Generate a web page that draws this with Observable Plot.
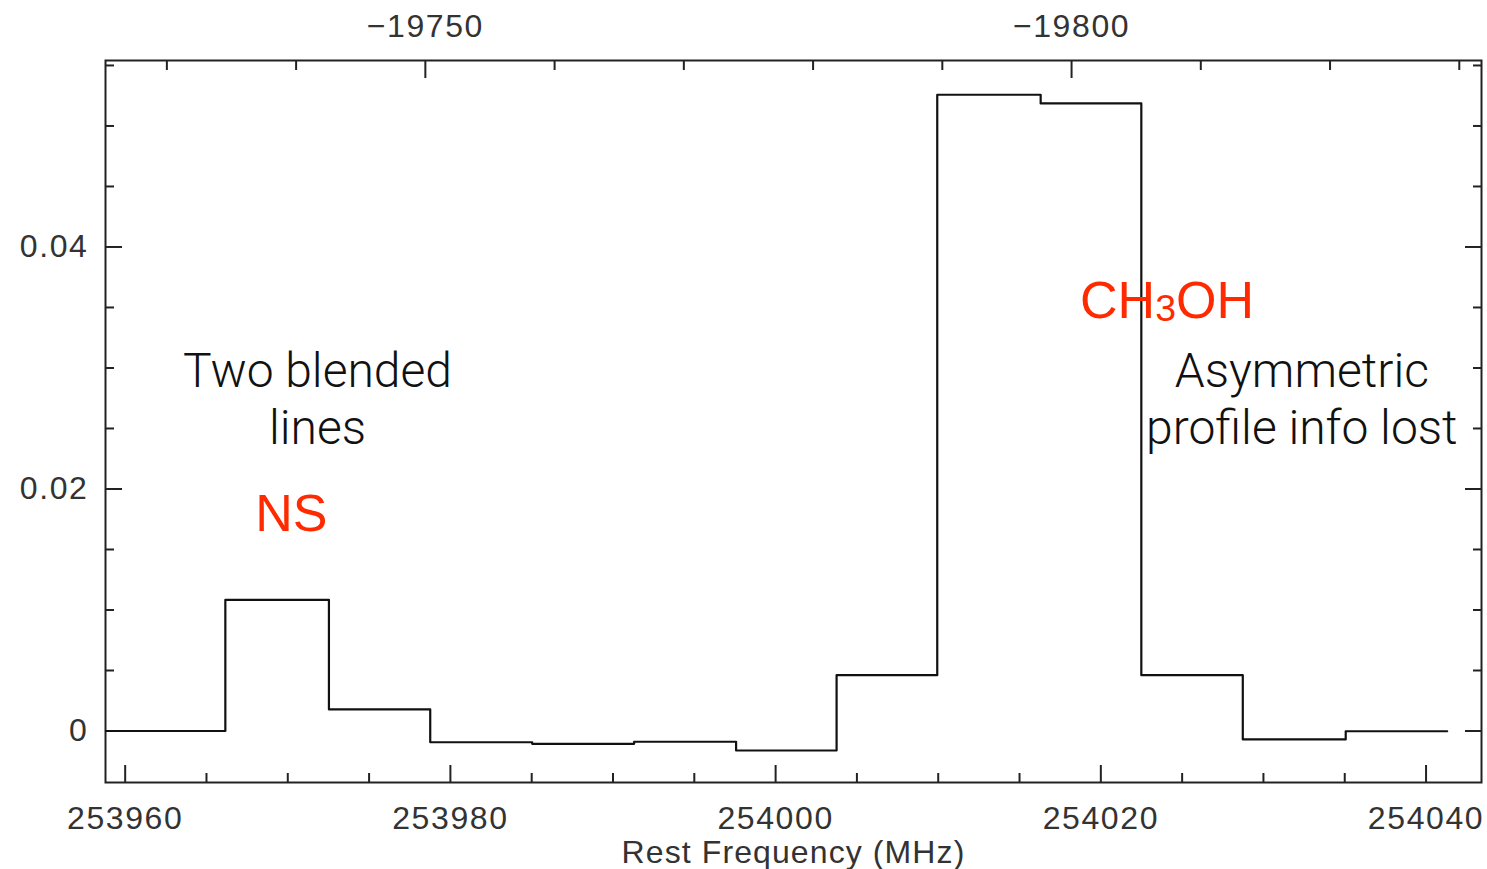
<!DOCTYPE html>
<html>
<head>
<meta charset="utf-8">
<script src="https://cdn.jsdelivr.net/npm/d3@7"></script>
<script src="https://cdn.jsdelivr.net/npm/@observablehq/plot@0.6"></script>
<style>
  html, body { margin: 0; padding: 0; background: #fff; }
  #chart { width: 1487px; height: 869px; }
  /* spaced, plotter-style digits on the axes */
  #chart g[aria-label$="tick label"] text { letter-spacing: 1.6px; }
  #chart g.axis-title text { letter-spacing: 1.1px; }
</style>
</head>
<body>
<div id="chart"></div>
<script>
// Channel edges of the spectrum (rest frequency, MHz); one more edge than channels.
const channelEdges = [
  253953.62, 253959.89, 253966.16, 253972.53, 253978.76, 253985.03, 253991.30,
  253997.57, 254003.75, 254009.94, 254016.30, 254022.49, 254028.73, 254035.06, 254041.30
];
// Antenna temperature in each channel.
const channelValues = [
  0.0000, 0.0000, 0.01084, 0.00178, -0.00093, -0.00106, -0.00089,
  -0.00161, 0.00461, 0.05258, 0.05186, 0.00461, -0.00070, -0.00002
];

// Bottom axis: rest frequency (MHz).
const freqMajorTicks = [253960, 253980, 254000, 254020, 254040];
const freqMinorTicks = [253965, 253970, 253975, 253985, 253990, 253995, 254005,
                        254010, 254015, 254025, 254030, 254035];

// Top axis: velocity (km/s), tied to the frequency axis by two reference points.
const velocityRef = [-19750, -19800];
const velocityRefFreq = [253978.46, 254018.20];
const velocityMajorTicks = [-19750, -19800];
const velocityMinorTicks = [-19730, -19740, -19760, -19770, -19780, -19790,
                            -19810, -19820, -19830];

// Vertical axis.
const yMajorTicks = [0, 0.02, 0.04];
const yMinorTicks = [0.005, 0.01, 0.015, 0.025, 0.03, 0.035, 0.045, 0.05, 0.055];

// Text notes placed in data coordinates.
const blackNotes = [
  {text: "Two blended\nlines", freq: 253971.83, value: 0.0276},
  {text: "Asymmetric\nprofile info lost", freq: 254032.36, value: 0.0276}
];
const redNotes = [
  {text: "NS", freq: 253970.22, value: 0.0179},
  {text: "CH3OH", freq: 254024.07, value: 0.0355}
];

const spectrum = channelEdges.map((f, i) => ({
  freq: f,
  value: channelValues[Math.min(i, channelValues.length - 1)]
}));

const velToFreq = d3.scaleLinear().domain(velocityRef).range(velocityRefFreq);
const freqToVel = velToFreq.invert;

const ink = "#222";
const tickFont = "Liberation Sans";
const noteRed = "#ff2a00";
const minus = s => String(s).replace("-", "\u2212");

const chart = Plot.plot({
  width: 1487,
  height: 869,
  marginLeft: 105,
  marginRight: 6,
  marginTop: 60,
  marginBottom: 87,
  style: {fontFamily: tickFont, fontSize: "32px", color: ink, background: "#fff"},
  x: {domain: [253958.79, 254043.41], axis: null},
  y: {domain: [-0.004256, 0.05541], axis: null},
  marks: [
    // bottom frequency axis
    Plot.axisX(freqMinorTicks, {anchor: "bottom", tickSize: -9, tickFormat: () => "", strokeWidth: 2, label: null}),
    Plot.axisX(freqMajorTicks, {anchor: "bottom", tickSize: -17, tickPadding: 41, strokeWidth: 2,
      tickFormat: d => String(d), label: null, fill: "#333"}),
    // top velocity axis
    Plot.axisX(velocityMinorTicks.map(velToFreq), {anchor: "top", tickSize: -9, tickFormat: () => "", strokeWidth: 2, label: null}),
    Plot.axisX(velocityMajorTicks.map(velToFreq), {anchor: "top", tickSize: -17, tickPadding: 41, strokeWidth: 2,
      tickFormat: d => minus(Math.round(freqToVel(d))), label: null, fill: "#333"}),
    // left and right value axes
    Plot.axisY(yMinorTicks, {anchor: "left", tickSize: -9, tickFormat: () => "", strokeWidth: 2, label: null}),
    Plot.axisY(yMajorTicks, {anchor: "left", tickSize: -17, tickPadding: 34, strokeWidth: 2,
      tickFormat: d => d === 0 ? "0" : d.toFixed(2), label: null, fill: "#333"}),
    Plot.axisY(yMinorTicks, {anchor: "right", tickSize: -9, tickFormat: () => "", strokeWidth: 2, label: null}),
    Plot.axisY(yMajorTicks, {anchor: "right", tickSize: -17, tickFormat: () => "", strokeWidth: 2, label: null}),
    Plot.frame({stroke: ink, strokeWidth: 2}),
    // spectrum
    Plot.line(spectrum, {x: "freq", y: "value", curve: "step-after", stroke: "#111", strokeWidth: 2.2, clip: true}),
    // axis title
    Plot.text(["Rest Frequency (MHz)"], {frameAnchor: "bottom", dy: 80, fill: "#333", fontSize: 32,
      className: "axis-title"}),
    // notes
    Plot.text(blackNotes, {x: "freq", y: "value", text: "text", fill: "#111", fontFamily: "Roboto",
      fontWeight: 300, fontSize: 48, lineHeight: 1.2, lineAnchor: "middle"}),
    Plot.text(redNotes, {x: "freq", y: "value", text: "text", fill: noteRed, fontFamily: "Liberation Sans",
      fontSize: 52, lineAnchor: "middle", className: "red-notes"})
  ]
});

// Set the digit in the methanol formula as a subscript.
d3.select(chart).selectAll("text").each(function () {
  const t = d3.select(this);
  if (t.text() !== "CH3OH") return;
  t.text(null);
  t.append("tspan").text("CH");
  t.append("tspan").attr("font-size", "0.72em").attr("dy", "0.08em").text("3");
  t.append("tspan").attr("dy", "-0.058em").text("OH");
});

document.getElementById("chart").appendChild(chart);
</script>
</body>
</html>
